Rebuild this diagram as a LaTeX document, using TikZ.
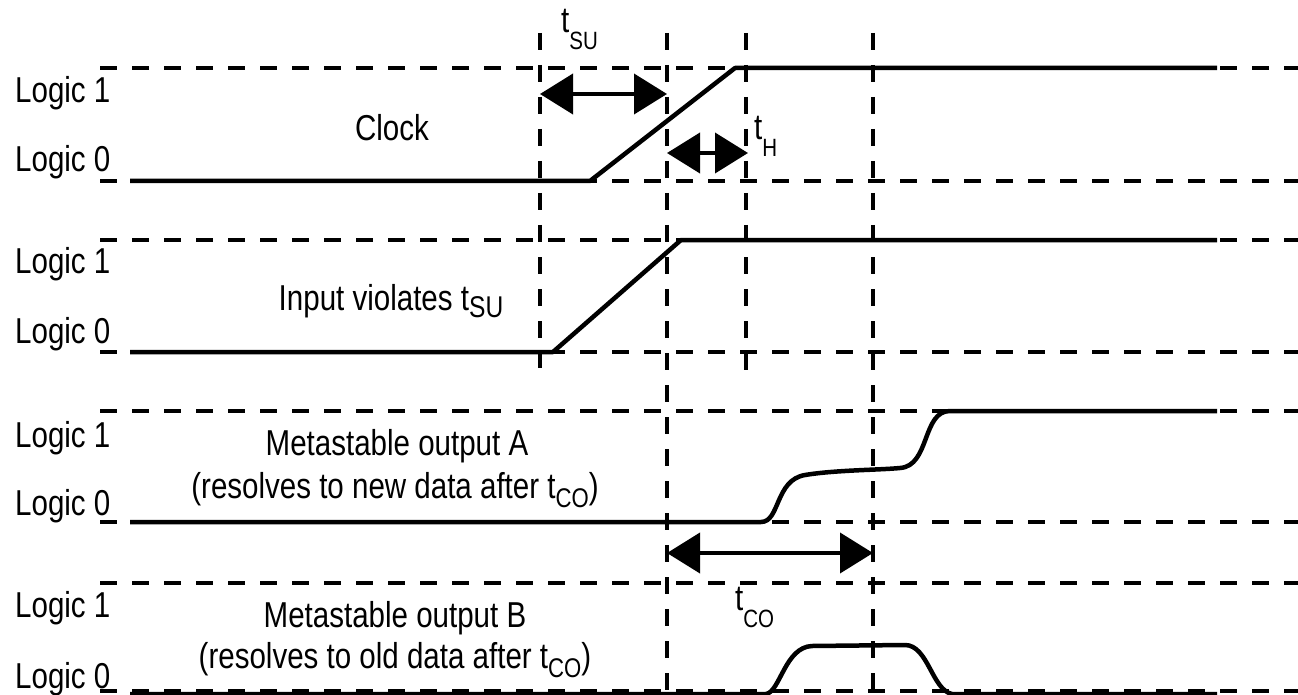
\documentclass[tikz,border=0pt]{standalone}
\usepackage{fontspec}
\setmainfont{Liberation Sans}[FakeStretch=0.82]
\usetikzlibrary{arrows.meta}
\newcommand\lowtxt[3]{\raisebox{-#1}{\fontsize{#2}{#2}\selectfont #3}}
\begin{document}
\begin{tikzpicture}[x=1pt,y=-1pt,
  lbl/.style={font=\fontsize{36pt}{40pt}\selectfont, inner sep=0pt},
  gridline/.style={line width=4pt, dash pattern=on 17pt off 15pt},
  signal/.style={line width=4.5pt, line join=round},
  timearrow/.style={line width=4pt, {Triangle[length=33pt,width=40pt]}-{Triangle[length=33pt,width=40pt]}}]
\useasboundingbox (0,0) rectangle (1298,695);
% horizontal reference levels
\foreach \yy in {68,181,240,352,411,522,583,691}
  \draw[gridline] (100,\yy) -- (1298,\yy);
% vertical timing marks
\draw[gridline] (540,33) -- (540,368);
\draw[gridline] (667,33) -- (667,695);
\draw[gridline] (746,33) -- (746,370);
\draw[gridline] (873,33) -- (873,695);
% signals
\draw[signal] (130,181) -- (590,181) -- (735,68) -- (1217,68);
\draw[signal] (130,352) -- (553,352) -- (681,240) -- (1217,240);
\draw[signal] (130,522) -- (761,522) .. controls (780,522) and (775,480) .. (805,475)
  .. controls (835,470) and (880,470) .. (900,468)
  .. controls (930,466) and (922,411) .. (950,411) -- (1217,411);
\draw[signal] (130,694) -- (766,694) .. controls (780,692) and (785,647) .. (812,646)
  -- (905,645) .. controls (928,645) and (932,690) .. (952,694) -- (1217,694);
% timing arrows
\coordinate (su1) at (540,94);
\coordinate (su2) at (667,94);
\coordinate (h1) at (667,153);
\coordinate (h2) at (748,153);
\coordinate (co1) at (667,553);
\coordinate (co2) at (873,553);
\draw[timearrow] (su1) -- (su2);
\draw[timearrow] (h1) -- (h2);
\draw[timearrow] (co1) -- (co2);
% labels
\node[lbl, anchor=base west] (c1) at (15,103) {Logic 1};
\node[lbl, anchor=base west] (c0) at (15,172) {Logic 0};
\node[lbl, anchor=base west] (i1) at (15,273) {Logic 1};
\node[lbl, anchor=base west] (i0) at (15,343) {Logic 0};
\node[lbl, anchor=base west] (a1) at (15,447) {Logic 1};
\node[lbl, anchor=base west] (a0) at (15,515) {Logic 0};
\node[lbl, anchor=base west] (b1) at (15,617) {Logic 1};
\node[lbl, anchor=base west] (b0) at (15,688) {Logic 0};
\node[lbl, anchor=base] (clk) at (392,141) {Clock};
\node[lbl, anchor=base] (inp) at (391,310) {Input violates t\lowtxt{7pt}{30pt}{SU}};
\node[lbl, anchor=base] (ma1) at (397,455) {Metastable output A};
\node[lbl, anchor=base] (ma2) at (395,498) {(resolves to new data after t\lowtxt{9pt}{27pt}{CO})};
\node[lbl, anchor=base] (mb1) at (395,627) {Metastable output B};
\node[lbl, anchor=base] (mb2) at (395,668) {(resolves to old data after t\lowtxt{9pt}{27pt}{CO})};
\node[lbl, anchor=base west] (tsu) at (561,33) {t\lowtxt{17pt}{25pt}{SU}};
\node[lbl, anchor=base west] (th) at (754,140) {t\lowtxt{17pt}{25pt}{H}};
\node[lbl, anchor=base west] (tco) at (735,610) {t\lowtxt{17pt}{25pt}{CO}};
\end{tikzpicture}
\end{document}
